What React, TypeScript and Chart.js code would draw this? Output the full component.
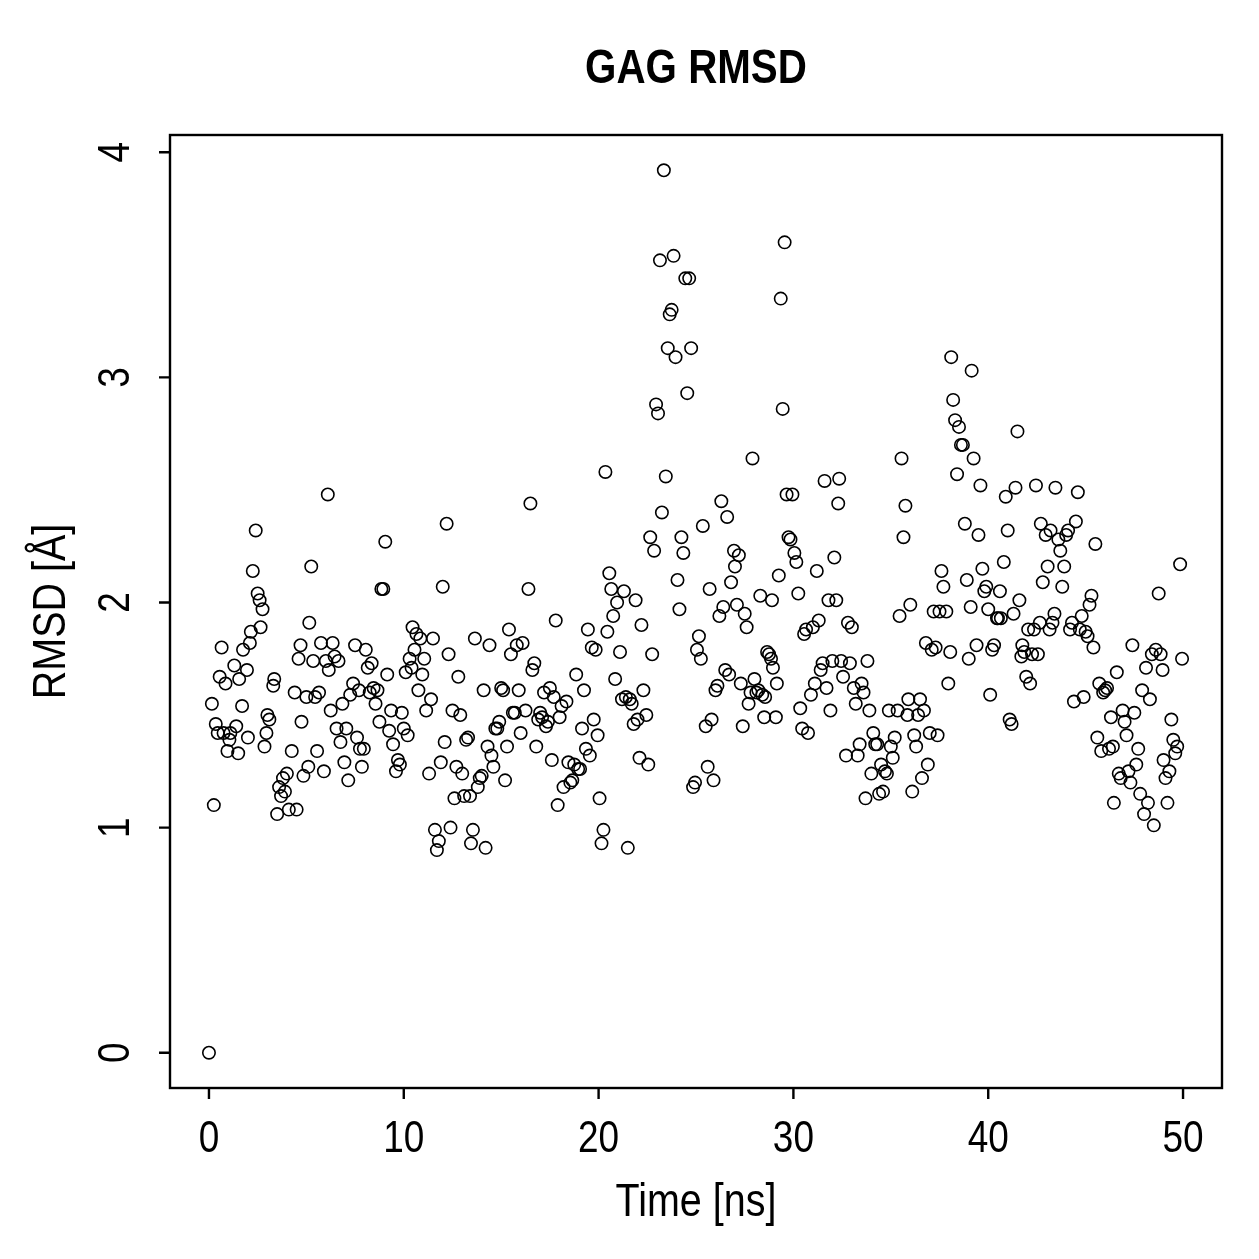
import React, { useEffect, useRef } from "react";
import { Chart, registerables } from "chart.js";
Chart.register(...registerables);

const chartTitle = "GAG RMSD";
const xAxisLabel = "Time [ns]";
const yAxisLabel = "RMSD [Å]";
const xTickValues = [0, 10, 20, 30, 40, 50];
const yTickValues = [0, 1, 2, 3, 4];

const timeNs = [
  0, 0.25, 0.15, 0.35, 0.45, 0.65, 0.75, 0.55, 0.85, 0.95, 1.1, 1.05, 1.3, 1.4, 1.5, 1.55, 1.7, 1.75, 1.95, 2.0,
  2.1, 2.15, 2.25, 2.4, 2.5, 2.6, 2.75, 2.65, 2.85, 2.95, 3.0, 3.1, 3.3, 3.35, 3.5, 3.6, 3.7, 3.8, 3.9, 4.0,
  4.1, 4.25, 4.4, 4.5, 4.6, 4.7, 4.75, 4.85, 5.0, 5.1, 5.15, 5.25, 5.35, 5.45, 5.55, 5.65, 5.75, 5.9, 6.0, 6.1,
  6.15, 6.25, 6.35, 6.45, 6.55, 6.65, 6.75, 6.85, 6.95, 7.05, 7.15, 7.25, 7.4, 7.5, 7.6, 7.7, 7.75, 7.85, 7.95, 8.05,
  8.15, 8.25, 8.35, 8.45, 8.55, 8.65, 8.75, 8.85, 8.95, 9.05, 9.15, 9.25, 9.35, 9.45, 9.6, 9.7, 9.8, 9.9, 10.0, 10.1,
  10.2, 10.3, 10.4, 10.45, 10.55, 10.65, 10.75, 10.85, 10.95, 11.05, 11.15, 11.3, 11.4, 11.5, 11.6, 11.7, 11.8, 11.9, 12.0, 12.1,
  12.2, 12.3, 12.4, 12.5, 12.6, 12.7, 12.8, 12.9, 13.0, 13.1, 13.2, 13.3, 13.4, 13.45, 13.55, 13.65, 13.8, 13.9, 14.0, 14.1,
  14.2, 14.3, 14.4, 14.5, 14.6, 14.7, 14.8, 14.9, 15.0, 15.1, 15.2, 15.3, 15.4, 15.5, 15.6, 15.7, 15.8, 15.9, 16.0, 16.1,
  16.25, 16.4, 16.5, 16.6, 16.7, 16.8, 16.9, 17.0, 17.1, 17.2, 17.3, 17.4, 17.5, 17.6, 17.7, 17.8, 17.9, 18.0, 18.1, 18.2,
  18.35, 18.45, 18.55, 18.65, 18.75, 18.85, 18.95, 19.05, 19.15, 19.25, 19.35, 19.45, 19.55, 19.65, 19.75, 19.85, 19.95, 20.05, 20.15, 20.25,
  20.35, 20.45, 20.55, 20.65, 20.75, 20.85, 20.95, 21.1, 21.2, 21.3, 21.4, 21.5, 21.6, 21.7, 21.8, 21.9, 22.0, 22.1, 22.2, 22.3,
  22.45, 22.55, 22.65, 22.75, 22.85, 22.95, 23.05, 23.15, 23.25, 23.35, 23.45, 23.55, 23.65, 23.75, 23.85, 23.95, 24.05, 24.15, 24.25, 24.35,
  24.45, 24.55, 24.65, 24.75, 24.85, 24.95, 25.05, 25.15, 25.25, 25.35, 25.5, 25.6, 25.7, 25.8, 25.9, 26.0, 26.1, 26.2, 26.3, 26.4,
  26.5, 26.6, 26.7, 26.8, 26.95, 27.0, 27.1, 27.2, 27.3, 27.4, 27.5, 27.6, 27.7, 27.8, 27.9, 28.0, 28.1, 28.2, 28.3, 28.4,
  28.5, 28.55, 28.65, 28.75, 28.85, 28.9, 28.95, 29.1, 29.15, 29.25, 29.35, 29.45, 29.55, 29.65, 29.75, 29.85, 29.95, 30.05, 30.15, 30.25,
  30.35, 30.45, 30.55, 30.65, 30.75, 30.9, 31.0, 31.1, 31.2, 31.3, 31.4, 31.5, 31.6, 31.7, 31.8, 31.9, 32.0, 32.1, 32.2, 32.3,
  32.35, 32.45, 32.55, 32.7, 32.8, 32.9, 33.0, 33.1, 33.2, 33.3, 33.4, 33.5, 33.6, 33.7, 33.8, 33.9, 34.0, 34.1, 34.2, 34.3,
  34.4, 34.5, 34.6, 34.7, 34.8, 34.9, 35.0, 35.1, 35.2, 35.35, 35.45, 35.55, 35.65, 35.75, 35.85, 35.9, 36.0, 36.1, 36.2, 36.3,
  36.4, 36.5, 36.6, 36.7, 36.8, 36.9, 37.0, 37.1, 37.2, 37.3, 37.4, 37.5, 37.6, 37.7, 37.85, 37.95, 38.05, 38.1, 38.2, 38.3,
  38.4, 38.5, 38.6, 38.7, 38.8, 38.9, 39.0, 39.1, 39.15, 39.25, 39.4, 39.5, 39.6, 39.7, 39.8, 39.9, 40.0, 40.1, 40.2, 40.3,
  40.45, 40.5, 40.6, 40.65, 40.8, 40.9, 41.0, 41.1, 41.2, 41.3, 41.4, 41.5, 41.6, 41.7, 41.75, 41.85, 41.95, 42.05, 42.15, 42.25,
  42.35, 42.45, 42.55, 42.65, 42.7, 42.8, 42.95, 43.05, 43.15, 43.2, 43.3, 43.4, 43.45, 43.6, 43.7, 43.8, 43.9, 44.0, 44.1, 44.2,
  44.3, 44.4, 44.5, 44.6, 44.7, 44.8, 44.9, 45.0, 45.1, 45.2, 45.3, 45.4, 45.5, 45.6, 45.7, 45.8, 45.9, 46.0, 46.1, 46.2,
  46.3, 46.4, 46.45, 46.6, 46.7, 46.8, 46.9, 47.0, 47.1, 47.2, 47.3, 47.4, 47.5, 47.6, 47.7, 47.8, 47.9, 48.0, 48.1, 48.2,
  48.3, 48.4, 48.5, 48.6, 48.75, 48.85, 48.95, 49.0, 49.1, 49.2, 49.3, 49.4, 49.5, 49.6, 49.7, 49.85, 49.95,
];

const rmsdA = [
  0.0, 1.1, 1.55, 1.46, 1.42, 1.8, 1.42, 1.67, 1.64, 1.34, 1.42, 1.39, 1.72, 1.45, 1.33, 1.66, 1.54, 1.79, 1.7, 1.4,
  1.82, 1.87, 2.14, 2.32, 2.04, 2.01, 1.97, 1.89, 1.36, 1.42, 1.5, 1.48, 1.63, 1.66, 1.06, 1.18, 1.14, 1.22, 1.16, 1.24,
  1.08, 1.34, 1.6, 1.08, 1.75, 1.81, 1.47, 1.23, 1.58, 1.27, 1.91, 2.16, 1.74, 1.58, 1.34, 1.6, 1.82, 1.25, 1.74, 2.48,
  1.7, 1.52, 1.82, 1.76, 1.44, 1.74, 1.38, 1.55, 1.29, 1.44, 1.21, 1.59, 1.64, 1.81, 1.4, 1.61, 1.35, 1.27, 1.35, 1.79,
  1.71, 1.6, 1.73, 1.62, 1.55, 1.61, 1.47, 2.06, 2.06, 2.27, 1.68, 1.43, 1.52, 1.37, 1.25, 1.3, 1.28, 1.51, 1.44, 1.69,
  1.41, 1.75, 1.71, 1.89, 1.79, 1.86, 1.61, 1.84, 1.68, 1.75, 1.52, 1.24, 1.57, 1.84, 0.99, 0.9, 0.94, 1.29, 2.07, 1.38,
  2.35, 1.77, 1.0, 1.52, 1.13, 1.27, 1.67, 1.5, 1.24, 1.14, 1.39, 1.4, 1.14, 0.93, 0.99, 1.84, 1.18, 1.22, 1.23, 1.61,
  0.91, 1.36, 1.81, 1.32, 1.27, 1.44, 1.44, 1.47, 1.62, 1.61, 1.21, 1.36, 1.88, 1.77, 1.51, 1.51, 1.81, 1.61, 1.42, 1.82,
  1.52, 2.06, 2.44, 1.7, 1.73, 1.36, 1.48, 1.51, 1.49, 1.6, 1.45, 1.47, 1.62, 1.3, 1.58, 1.92, 1.1, 1.49, 1.54, 1.18,
  1.56, 1.29, 1.2, 1.21, 1.28, 1.68, 1.26, 1.26, 1.44, 1.61, 1.35, 1.88, 1.32, 1.8, 1.48, 1.79, 1.41, 1.13, 0.93, 0.99,
  2.58, 1.87, 2.13, 2.06, 1.94, 1.66, 2.0, 1.78, 1.57, 2.05, 1.58, 0.91, 1.57, 1.55, 1.46, 2.01, 1.48, 1.31, 1.9, 1.61,
  1.5, 1.28, 2.29, 1.77, 2.23, 2.88, 2.84, 3.52, 2.4, 3.92, 2.56, 3.13, 3.28, 3.3, 3.54, 3.09, 2.1, 1.97, 2.29, 2.22,
  3.44, 2.93, 3.44, 3.13, 1.18, 1.2, 1.79, 1.85, 1.75, 2.34, 1.45, 1.27, 2.06, 1.48, 1.21, 1.61, 1.63, 1.94, 2.45, 1.98,
  1.7, 2.38, 1.68, 2.09, 2.23, 2.16, 1.99, 2.21, 1.64, 1.45, 1.95, 1.89, 1.55, 1.6, 2.64, 1.66, 1.6, 1.61, 2.03, 1.59,
  1.49, 1.58, 1.78, 1.77, 1.75, 2.01, 1.71, 1.49, 1.64, 2.12, 3.35, 2.86, 3.6, 2.48, 2.29, 2.28, 2.48, 2.22, 2.18, 2.04,
  1.53, 1.44, 1.86, 1.88, 1.42, 1.59, 1.89, 1.64, 2.14, 1.92, 1.7, 1.73, 2.54, 1.62, 2.01, 1.52, 1.74, 2.2, 2.01, 2.44,
  2.55, 1.74, 1.67, 1.32, 1.91, 1.73, 1.89, 1.62, 1.55, 1.32, 1.37, 1.64, 1.6, 1.13, 1.74, 1.52, 1.24, 1.42, 1.37, 1.37,
  1.15, 1.28, 1.16, 1.25, 1.24, 1.52, 1.36, 1.31, 1.4, 1.52, 1.94, 2.64, 2.29, 2.43, 1.5, 1.57, 1.99, 1.16, 1.41, 1.36,
  1.5, 1.57, 1.22, 1.52, 1.82, 1.28, 1.42, 1.79, 1.96, 1.8, 1.41, 1.96, 2.14, 2.07, 1.96, 1.64, 1.78, 3.09, 2.9, 2.81,
  2.57, 2.78, 2.7, 2.7, 2.35, 2.1, 1.75, 1.98, 3.03, 2.64, 1.81, 2.3, 2.52, 2.15, 2.05, 2.07, 1.97, 1.59, 1.79, 1.81,
  1.93, 1.93, 2.05, 1.93, 2.18, 2.47, 2.32, 1.48, 1.46, 1.95, 2.51, 2.76, 2.01, 1.76, 1.81, 1.78, 1.67, 1.88, 1.64, 1.77,
  1.88, 2.52, 1.77, 1.91, 2.35, 2.09, 2.3, 2.16, 1.88, 2.32, 1.91, 1.95, 2.51, 2.28, 2.23, 2.07, 2.16, 2.3, 2.32, 1.88,
  1.91, 1.56, 2.36, 2.49, 1.88, 1.94, 1.58, 1.87, 1.85, 1.99, 2.03, 1.8, 2.26, 1.4, 1.64, 1.34, 1.6, 1.61, 1.62, 1.35,
  1.49, 1.36, 1.11, 1.69, 1.24, 1.22, 1.52, 1.47, 1.41, 1.25, 1.2, 1.81, 1.51, 1.28, 1.35, 1.15, 1.61, 1.06, 1.71, 1.11,
  1.57, 1.77, 1.01, 1.79, 2.04, 1.77, 1.7, 1.3, 1.22, 1.11, 1.25, 1.48, 1.39, 1.33, 1.36, 2.17, 1.75,
];

const FONT = "'Liberation Sans', Arial, Helvetica, sans-serif";
const NARROW = 0.84;

function drawNarrowText(
  c: CanvasRenderingContext2D,
  text: string,
  x: number,
  y: number,
  rotate: boolean
) {
  c.save();
  c.translate(x, y);
  if (rotate) c.rotate(-Math.PI / 2);
  c.scale(NARROW, 1);
  c.fillText(text, 0, 0);
  c.restore();
}

export default function App() {
  const canvasRef = useRef<HTMLCanvasElement>(null);

  useEffect(() => {
    document.body.style.margin = "0";
    const canvas = canvasRef.current;
    if (!canvas) return;

    const rAxesPlugin = {
      id: "rAxes",
      afterDraw(chart: any) {
        const c = chart.ctx as CanvasRenderingContext2D;
        const a = chart.chartArea;
        const xs = chart.scales.x;
        const ys = chart.scales.y;
        c.save();
        c.strokeStyle = "#000";
        c.lineWidth = 2.4;
        c.strokeRect(a.left, a.top, a.right - a.left, a.bottom - a.top);
        c.beginPath();
        xTickValues.forEach((v) => {
          const px = xs.getPixelForValue(v);
          c.moveTo(px, a.bottom);
          c.lineTo(px, a.bottom + 11);
        });
        yTickValues.forEach((v) => {
          const py = ys.getPixelForValue(v);
          c.moveTo(a.left, py);
          c.lineTo(a.left - 11, py);
        });
        c.stroke();

        c.fillStyle = "#000";
        c.textAlign = "center";
        c.textBaseline = "middle";
        c.font = `44px ${FONT}`;
        xTickValues.forEach((v) => {
          drawNarrowText(c, String(v), xs.getPixelForValue(v), 1140, false);
        });
        yTickValues.forEach((v) => {
          drawNarrowText(c, String(v), 117, ys.getPixelForValue(v), true);
        });
        c.font = `47px ${FONT}`;
        drawNarrowText(c, xAxisLabel, (a.left + a.right) / 2, 1203, false);
        drawNarrowText(c, yAxisLabel, 52, (a.top + a.bottom) / 2, true);

        c.font = `bold 48px ${FONT}`;
        drawNarrowText(c, chartTitle, (a.left + a.right) / 2, 70, false);
        c.restore();
      },
    };

    const points = timeNs.map((t, i) => ({ x: t, y: rmsdA[i] }));

    const chart = new Chart(canvas, {
      type: "scatter",
      data: {
        datasets: [
          {
            data: points,
            pointStyle: "circle",
            pointRadius: 6.2,
            pointBorderWidth: 1.6,
            pointBorderColor: "#000",
            pointBackgroundColor: "rgba(0,0,0,0)",
          },
        ],
      },
      options: {
        animation: false,
        responsive: false,
        devicePixelRatio: 1,
        layout: { padding: { left: 170, right: 37, top: 135, bottom: 171 } },
        plugins: { legend: { display: false }, tooltip: { enabled: false } },
        scales: {
          x: { type: "linear", display: false, min: -2, max: 52 },
          y: { type: "linear", display: false, min: -0.1568, max: 4.0768 },
        },
      },
      plugins: [rAxesPlugin],
    });

    return () => chart.destroy();
  }, []);

  return (
    <div style={{ width: 1259, height: 1259, background: "#fff" }}>
      <canvas ref={canvasRef} width={1259} height={1259} style={{ display: "block" }} />
    </div>
  );
}
